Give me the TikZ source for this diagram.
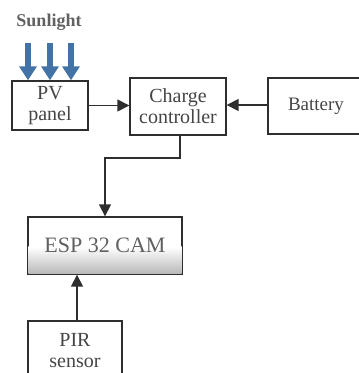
\documentclass[tikz,border=0pt]{standalone}
\usepackage{fontspec}
\setmainfont{Liberation Serif}
\usetikzlibrary{arrows.meta,calc}
\definecolor{txt}{HTML}{454545}
\definecolor{edge}{HTML}{2E2E2E}
\definecolor{sun}{HTML}{4272A6}
\tikzset{
  blk/.style={draw=edge, line width=1.4pt, fill=white, text=txt, align=center, inner sep=0pt,
    font=\fontsize{20}{21}\selectfont},
  conn/.style={draw=edge, line width=1.6pt, -{Triangle[width=12pt,length=12pt]}},
  ray/.style={draw=sun, line width=6pt, -{Triangle[width=17pt,length=14pt]}}
}
\begin{document}
\begin{tikzpicture}[x=1pt,y=-1pt]
\useasboundingbox (0,0) rectangle (359,373);
\clip (0,0) rectangle (359,373);
\node[text=txt!85, font=\bfseries\fontsize{18}{20}\selectfont] (sunl) at (49,22) {Sunlight};
\node[blk, minimum width=76pt, minimum height=49pt] (pv) at (50,105.5) {PV\\panel};
\node[blk, minimum width=96pt, minimum height=57pt] (cc) at (178,106.5) {Charge\\controller};
\node[blk, minimum width=96pt, minimum height=56pt, font=\fontsize{19}{21}\selectfont] (bat) at (316,106) {Battery};
\node[blk, minimum width=154pt, minimum height=57pt] (esp) at (105,245.5) {};
\shade[bottom color=gray!55, top color=white] ($(esp.south west)+(1,-1)$) rectangle ($(esp.south east)+(-1,-28)$);
\node[text=txt!85, font=\fontsize{22}{24}\selectfont] at (esp.center) {ESP 32 CAM};
\node[blk, minimum width=94pt, minimum height=59pt] (pir) at (75,350.5) {PIR\\sensor};
\coordinate (r1s) at (28,43); \coordinate (r2s) at (50,43); \coordinate (r3s) at (71,43);
\draw[ray] (r1s) -- (r1s |- pv.north);
\draw[ray] (r2s) -- (r2s |- pv.north);
\draw[ray] (r3s) -- (r3s |- pv.north);
\draw[conn] (pv.east) -- (pv.east -| cc.west);
\draw[conn] (bat.west |- 0,105) -- (cc.east |- 0,105);
\coordinate (ccout) at ($(cc.south)+(2,0)$);
\draw[conn] (ccout) -- ++(0,22) -| (esp.north);
\draw[conn] ($(pir.north)+(2,0)$) -- ($(esp.south)+(-28,0)$);
\end{tikzpicture}
\end{document}
